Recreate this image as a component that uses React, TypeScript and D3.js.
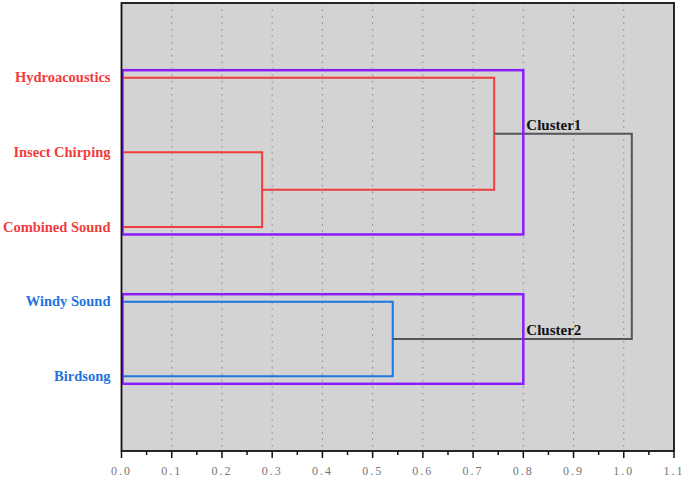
import React, { useEffect, useRef } from 'react'
import * as d3 from 'd3'

// leaves, top to bottom
const leaves = ['Hydroacoustics', 'Insect Chirping', 'Combined Sound', 'Windy Sound', 'Birdsong']
const leafColors = ['#f23c3c', '#f23c3c', '#f23c3c', '#1f74e0', '#1f74e0']

// merges: [a, b, height, color]; ids 0-4 are leaves, 5+ are merged nodes
const merges: [number, number, number, string][] = [
  [1, 2, 0.28, '#f23c3c'],
  [0, 5, 0.742, '#f23c3c'],
  [3, 4, 0.54, '#1f74e0'],
  [6, 7, 1.016, '#555555'],
]

// cluster boxes: [first leaf, last leaf, right edge]
const clusterBoxes: [number, number, number][] = [
  [0, 2, 0.8],
  [3, 4, 0.8],
]
const clusterNames = ['Cluster1', 'Cluster2']
const clusterNodes = [6, 7]

const xTicks = d3.range(0, 1.11, 0.1)

const App = () => {
  const ref = useRef<SVGSVGElement>(null)

  useEffect(() => {
    const width = 685
    const height = 478
    const margins = { top: 3, right: 11, bottom: 27, left: 121.5 }
    const boundedWidth = width - margins.left - margins.right
    const boundedHeight = height - margins.top - margins.bottom

    const svg = d3.select(ref.current)
    svg.selectAll('*').remove()

    const bounds = svg.append('g')
      .attr('transform', `translate(${margins.left},${margins.top})`)

    const xScale = d3.scaleLinear().domain([0, 1.1]).range([0, boundedWidth])
    const yScale = d3.scaleLinear().domain([0, leaves.length + 1]).range([0, boundedHeight])

    // background
    bounds.append('rect')
      .attr('width', boundedWidth)
      .attr('height', boundedHeight)
      .attr('fill', '#d3d3d3')

    // grid
    bounds.selectAll('.grid')
      .data(xTicks.slice(1, -1))
      .join('line')
      .attr('x1', d => xScale(d))
      .attr('x2', d => xScale(d))
      .attr('y1', 0)
      .attr('y2', boundedHeight)
      .attr('stroke', '#8a8a8a')
      .attr('stroke-width', 1)
      .attr('stroke-dasharray', '1.5,5')

    // node positions
    const nodeX: number[] = leaves.map(() => 0)
    const nodeY: number[] = leaves.map((_, i) => yScale(i + 1))
    merges.forEach(([a, b, h, color]) => {
      const x = xScale(h)
      const path = d3.path()
      path.moveTo(xScale(nodeX[a]), nodeY[a])
      path.lineTo(x, nodeY[a])
      path.lineTo(x, nodeY[b])
      path.lineTo(xScale(nodeX[b]), nodeY[b])
      bounds.append('path')
        .attr('d', path.toString())
        .attr('fill', 'none')
        .attr('stroke', color)
        .attr('stroke-width', 2)
      nodeX.push(h)
      nodeY.push((nodeY[a] + nodeY[b]) / 2)
    })

    // cluster boxes
    clusterBoxes.forEach(([first, last, right]) => {
      bounds.append('rect')
        .attr('x', xScale(0) + 1)
        .attr('y', yScale(first + 1 - 0.1))
        .attr('width', xScale(right) - xScale(0) - 1)
        .attr('height', yScale(last + 1 + 0.1) - yScale(first + 1 - 0.1))
        .attr('fill', 'none')
        .attr('stroke', '#8a1cff')
        .attr('stroke-width', 2.5)
    })

    // cluster labels
    clusterNodes.forEach((n, i) => {
      bounds.append('text')
        .attr('x', xScale(0.8) + 3)
        .attr('y', nodeY[n] - 4)
        .attr('fill', '#111')
        .style('font-family', '"Liberation Serif", serif')
        .style('font-weight', 'bold')
        .style('font-size', '15px')
        .text(clusterNames[i])
    })

    // border
    bounds.append('rect')
      .attr('width', boundedWidth)
      .attr('height', boundedHeight)
      .attr('fill', 'none')
      .attr('stroke', '#111')
      .attr('stroke-width', 1.8)

    // leaf labels
    bounds.selectAll('.leaf')
      .data(leaves)
      .join('text')
      .attr('x', -11)
      .attr('y', (_, i) => yScale(i + 1))
      .attr('dy', '0.32em')
      .attr('text-anchor', 'end')
      .attr('fill', (_, i) => leafColors[i])
      .style('font-family', '"Liberation Serif", serif')
      .style('font-weight', 'bold')
      .style('font-size', '14.5px')
      .text(d => d)

    // x axis
    const xAxis = bounds.append('g')
      .attr('transform', `translate(0,${boundedHeight})`)
    xAxis.selectAll('.minor')
      .data(d3.range(0.05, 1.1, 0.1))
      .join('line')
      .attr('x1', d => xScale(d))
      .attr('x2', d => xScale(d))
      .attr('y1', 0)
      .attr('y2', 4)
      .attr('stroke', '#111')
      .attr('stroke-width', 1.5)
    xAxis.selectAll('.major')
      .data(xTicks)
      .join('line')
      .attr('x1', d => xScale(d))
      .attr('x2', d => xScale(d))
      .attr('y1', 0)
      .attr('y2', 7)
      .attr('stroke', '#111')
      .attr('stroke-width', 1.5)
    xAxis.selectAll('.lbl')
      .data(xTicks)
      .join('text')
      .attr('x', d => xScale(d))
      .attr('y', 24)
      .attr('text-anchor', 'middle')
      .attr('fill', '#777')
      .style('font-family', '"Liberation Serif", serif')
      .style('font-size', '12px')
      .style('letter-spacing', '2px')
      .text(d => d3.format('.1f')(d))
  }, [])

  return <svg ref={ref} width={685} height={478} style={{ position: 'absolute', left: 0, top: 0 }}></svg>
}

export default App
